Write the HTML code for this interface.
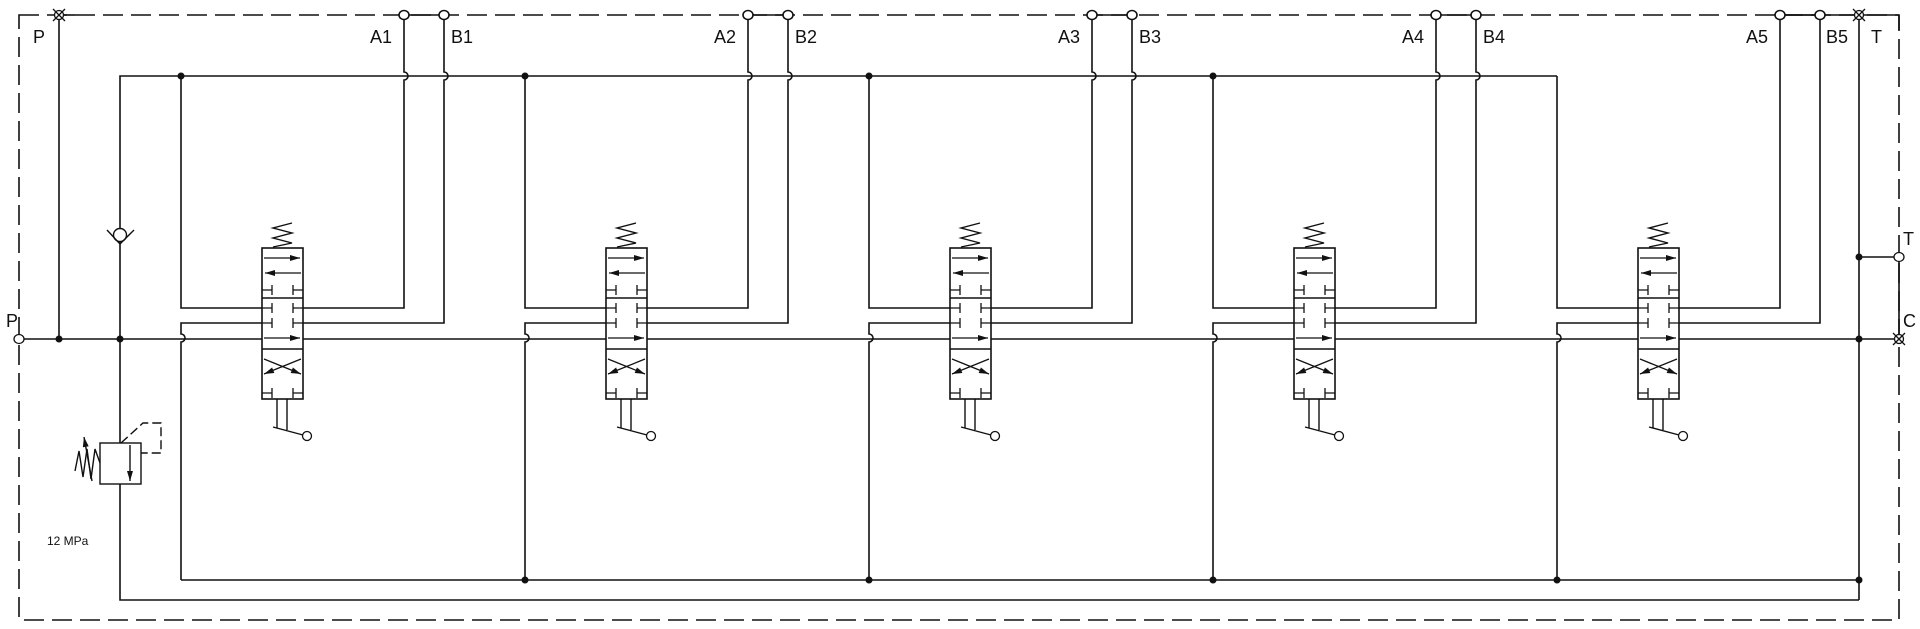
<!DOCTYPE html>
<html><head><meta charset="utf-8"><style>
html,body{margin:0;padding:0;background:#fff;width:1920px;height:629px;overflow:hidden}
svg{display:block}
text{font-family:"Liberation Sans",Arial,sans-serif;fill:#111}
</style></head><body>
<svg width="1920" height="629" viewBox="0 0 1920 629" xmlns="http://www.w3.org/2000/svg">
<defs>
<marker id="ah" viewBox="0 0 10 6" refX="10" refY="3" markerWidth="10" markerHeight="6" markerUnits="userSpaceOnUse" orient="auto"><path d="M0,0 L10,3 L0,6 z" fill="#111"/></marker>
<g id="valve" fill="none" stroke="#111" stroke-width="1.6">
  <rect x="262" y="248" width="41" height="151" fill="#fff"/>
  <line x1="262" y1="298" x2="303" y2="298"/>
  <line x1="262" y1="349" x2="303" y2="349"/>
  <path d="M273,247 L292,243 L273,238 L292,233 L273,228 L292,223" stroke-width="1.4"/>
  <line x1="264" y1="258" x2="300" y2="258" marker-end="url(#ah)" stroke-width="1.3"/>
  <line x1="301" y1="273" x2="265" y2="273" marker-end="url(#ah)" stroke-width="1.3"/>
  <path d="M262,290 H272 M272,285 V295 M303,290 H293 M293,285 V295" stroke-width="1.3"/>
  <path d="M262,308 H272 M272,303 V313 M303,308 H293 M293,303 V313" stroke-width="1.3"/>
  <path d="M262,323 H272 M272,318 V328 M303,323 H293 M293,318 V328" stroke-width="1.3"/>
  <line x1="264" y1="338" x2="300" y2="338" marker-end="url(#ah)" stroke-width="1.3"/>
  <line x1="264" y1="359" x2="301" y2="374" marker-end="url(#ah)" stroke-width="1.3"/>
  <line x1="301" y1="359" x2="264" y2="374" marker-end="url(#ah)" stroke-width="1.3"/>
  <path d="M262,393 H272 M272,388 V398 M303,393 H293 M293,388 V398" stroke-width="1.3"/>
  <path d="M277,399 V428 M287,399 V430 M273,427 L303,435" stroke-width="1.4"/>
  <circle cx="307" cy="436" r="4.5" fill="#fff" stroke-width="1.3"/>
</g>
<g id="sec" fill="none" stroke="#111" stroke-width="1.6">
  <path d="M181,76 V308 H262 M303,308 H404 V80 A4,4 0 0 0 404,72 V15"/>
  <path d="M444,15 V72 A4,4 0 0 1 444,80 V323 H303 M262,323 H181 V334 A4,4 0 0 1 181,342 V580"/>
  <line x1="404" y1="15" x2="444" y2="15"/>
  <ellipse cx="404" cy="15" rx="5" ry="4.5" fill="#fff"/>
  <ellipse cx="444" cy="15" rx="5" ry="4.5" fill="#fff"/>
  <use href="#valve"/>
</g>
<g id="sec5" fill="none" stroke="#111" stroke-width="1.6">
  <path d="M181,76 V308 H262 M303,308 H404 V15"/>
  <path d="M444,15 V323 H303 M262,323 H181 V334 A4,4 0 0 1 181,342 V580"/>
  <line x1="404" y1="15" x2="444" y2="15"/>
  <ellipse cx="404" cy="15" rx="5" ry="4.5" fill="#fff"/>
  <ellipse cx="444" cy="15" rx="5" ry="4.5" fill="#fff"/>
  <use href="#valve"/>
</g>
</defs>

<rect x="19" y="15" width="1880" height="605" fill="none" stroke="#111" stroke-width="1.6" stroke-dasharray="20 8"/>
<g fill="none" stroke="#111" stroke-width="1.6">
<line x1="1779" y1="15" x2="1899" y2="15"/>
<line x1="59" y1="15" x2="75" y2="15"/>
<line x1="1899" y1="15" x2="1899" y2="30"/>
<line x1="1899" y1="257" x2="1899" y2="339"/>
<line x1="19" y1="339" x2="1899" y2="339"/>
<line x1="59" y1="15" x2="59" y2="339"/>
<path d="M120,339 V76 H1557"/>
<path d="M120,339 V600 H1859"/>
<line x1="181" y1="580" x2="1859" y2="580"/>
<line x1="1859" y1="15" x2="1859" y2="600"/>
<line x1="1859" y1="257" x2="1899" y2="257"/>
</g>
<use href="#sec"/>
<use href="#sec" transform="translate(344,0)"/>
<use href="#sec" transform="translate(688,0)"/>
<use href="#sec" transform="translate(1032,0)"/>
<use href="#sec5" transform="translate(1376,0)"/>
<g fill="#111">
<circle cx="181" cy="76" r="3.5"/><circle cx="525" cy="76" r="3.5"/><circle cx="869" cy="76" r="3.5"/><circle cx="1213" cy="76" r="3.5"/>
<circle cx="59" cy="339" r="3.5"/><circle cx="120" cy="339" r="3.5"/>
<circle cx="525" cy="580" r="3.5"/><circle cx="869" cy="580" r="3.5"/><circle cx="1213" cy="580" r="3.5"/><circle cx="1557" cy="580" r="3.5"/>
<circle cx="1859" cy="257" r="3.5"/><circle cx="1859" cy="339" r="3.5"/><circle cx="1859" cy="580" r="3.5"/>
</g>
<g fill="#fff" stroke="#111" stroke-width="1.3">
<ellipse cx="19" cy="339" rx="5" ry="4.5"/>
<ellipse cx="1899" cy="257" rx="5" ry="4.5"/>
<circle cx="59" cy="15" r="4.5"/><path d="M53,9 L65,21 M65,9 L53,21"/>
<circle cx="1859" cy="15" r="4.5"/><path d="M1853,9 L1865,21 M1865,9 L1853,21"/>
<circle cx="1899" cy="339" r="4.5"/><path d="M1893,333 L1905,345 M1905,333 L1893,345"/>
</g>
<!-- check valve -->
<g fill="none" stroke="#111" stroke-width="1.4">
<rect x="114" y="228" width="12" height="14" fill="#fff" stroke="none"/>
<circle cx="120" cy="235" r="6.5" fill="#fff"/>
<path d="M107,230 L120,244 L134,230"/>
</g>
<!-- relief valve -->
<g fill="none" stroke="#111" stroke-width="1.4">
<rect x="100" y="443" width="41" height="41" fill="#fff"/>
<line x1="130" y1="445" x2="130" y2="481" marker-end="url(#ah)"/>
<path d="M121,443 L143,423 H161 V453 H141" stroke-dasharray="9 4"/>
<path d="M100,463 L95,449 L91,479 L87,449 L83,477 L79,451 L75,471"/>
<line x1="92" y1="481" x2="84" y2="437" marker-end="url(#ah)"/>
</g>
<g font-size="18">
<text x="33" y="43">P</text>
<text x="6" y="327">P</text>
<text x="370" y="43">A1</text><text x="451" y="43">B1</text>
<text x="714" y="43">A2</text><text x="795" y="43">B2</text>
<text x="1058" y="43">A3</text><text x="1139" y="43">B3</text>
<text x="1402" y="43">A4</text><text x="1483" y="43">B4</text>
<text x="1746" y="43">A5</text><text x="1826" y="43">B5</text>
<text x="1871" y="43">T</text>
<text x="1903" y="245">T</text>
<text x="1903" y="327">C</text>
</g>
<text x="47" y="545" font-size="12">12 MPa</text>
</svg>
</body></html>
